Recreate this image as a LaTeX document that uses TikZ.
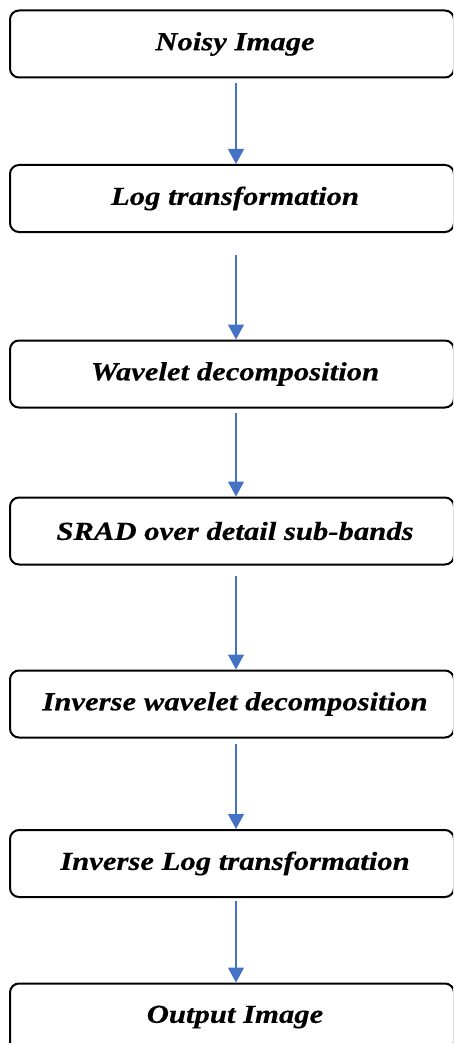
\documentclass[tikz,border=0pt]{standalone}
\usepackage{fontspec}
\setmainfont{Liberation Serif}
\newfontfamily\boxfont[FakeStretch=1.18,FakeBold=0.4]{Liberation Serif}
\usetikzlibrary{arrows.meta}
\definecolor{arrowblue}{HTML}{4472C4}
\tikzset{
  box/.style={draw=black, line width=2pt, rounded corners=9pt, fill=white,
    minimum width=444pt, minimum height=67pt, inner sep=0pt,
    font=\boxfont\fontsize{26}{30}\selectfont\bfseries\itshape},
  arr/.style={draw=arrowblue, line width=1.3pt, -{Triangle[width=16pt,length=15pt]}}
}
\begin{document}
\begin{tikzpicture}[x=1pt,y=-1pt]
\useasboundingbox (0,0) rectangle (453,1043);
\clip (0,0) rectangle (453,1043);
\node[box] (n1) at (232,44) {\hspace*{6pt}Noisy Image};
\node[box] (n2) at (232,198.5) {\hspace*{6pt}Log transformation};
\node[box] (n3) at (232,374) {\hspace*{6pt}Wavelet decomposition};
\node[box] (n4) at (232,531) {\hspace*{6pt}SRAD over detail sub-bands};
\node[box] (n5) at (232,704) {\hspace*{6pt}Inverse wavelet decomposition};
\node[box] (n6) at (232,863.5) {\hspace*{6pt}Inverse Log transformation};
\node[box] (n7) at (232,1017) {\hspace*{6pt}Output Image};
\draw[arr] ([xshift=4pt,yshift=-4.5pt]n1.south) -- ([xshift=4pt]n2.north);
\draw[arr] ([xshift=4pt,yshift=-21.5pt]n2.south) -- ([xshift=4pt]n3.north);
\draw[arr] ([xshift=4pt,yshift=-4.5pt]n3.south) -- ([xshift=4pt]n4.north);
\draw[arr] ([xshift=4pt,yshift=-10pt]n4.south) -- ([xshift=4pt]n5.north);
\draw[arr] ([xshift=4pt,yshift=-5.5pt]n5.south) -- ([xshift=4pt]n6.north);
\draw[arr] ([xshift=4pt,yshift=-3pt]n6.south) -- ([xshift=4pt]n7.north);
\end{tikzpicture}
\end{document}
